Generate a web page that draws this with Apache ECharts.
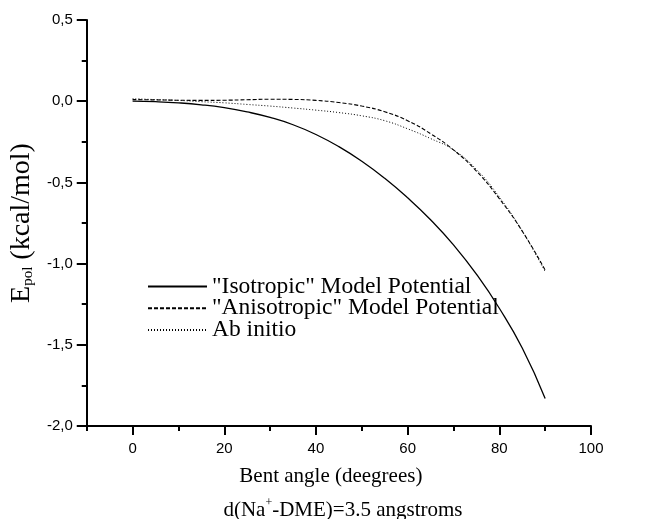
<!DOCTYPE html>
<html>
<head>
<meta charset="utf-8">
<script src="https://cdn.jsdelivr.net/npm/echarts@6/dist/echarts.min.js"></script>
<style>
  html, body { margin: 0; padding: 0; background: #fff; }
  #main { width: 652px; height: 519px; }
</style>
</head>
<body>
<div id="main"></div>
<script>
  // bent angle (degrees)
  var angles = [0, 5, 10, 15, 20, 25, 30, 35, 40, 45, 50, 55, 60, 65, 70, 75, 80, 85, 90];

  // E_pol (kcal/mol)
  var isotropic = [0, -0.003, -0.01, -0.022, -0.04, -0.066, -0.10, -0.145, -0.205, -0.28, -0.37, -0.475, -0.595, -0.73, -0.885, -1.065, -1.275, -1.52, -1.83];
  var anisotropic = [0.01, 0.008, 0.006, 0.005, 0.006, 0.009, 0.012, 0.011, 0.005, -0.008, -0.03, -0.065, -0.12, -0.20, -0.30, -0.43, -0.60, -0.80, -1.04];
  var abInitio = [0.015, 0.01, 0.005, -0.003, -0.01, -0.02, -0.03, -0.042, -0.055, -0.07, -0.09, -0.12, -0.17, -0.23, -0.30, -0.42, -0.59, -0.80, -1.05];

  var names = ['"Isotropic" Model Potential', '"Anisotropic" Model Potential', 'Ab initio'];
  var majorX = [0, 20, 40, 60, 80, 100];

  function pairs(ys) {
    return angles.map(function (a, i) { return [a, ys[i]]; });
  }

  var myChart = echarts.init(document.getElementById('main'));

  var tickFont = { fontFamily: 'Liberation Sans', fontSize: 15, color: '#000' };

  var option = {
    animation: false,
    backgroundColor: '#fff',
    grid: { left: 86, right: 61, top: 20, bottom: 93 },
    legend: {
      orient: 'vertical',
      left: 147,
      top: 274.5,
      padding: 0,
      itemWidth: 59,
      itemHeight: 10,
      itemGap: -2.2,
      itemStyle: { opacity: 0 },
      textStyle: { fontFamily: 'Liberation Serif', fontSize: 23.5, color: '#000' },
      data: names
    },
    title: {
      text: '{b|d(Na}{sup|+}{b|-DME)=3.5 angstroms}',
      left: 338,
      textAlign: 'center',
      top: 492,
      textStyle: {
        rich: {
          b: { fontFamily: 'Liberation Serif', fontSize: 21, fontWeight: 'normal', lineHeight: 24, color: '#000', verticalAlign: 'bottom' },
          sup: { fontFamily: 'Liberation Serif', fontSize: 12, fontWeight: 'normal', lineHeight: 12, color: '#000', verticalAlign: 'top' }
        }
      }
    },
    xAxis: [{
      type: 'value',
      min: -10,
      max: 100,
      interval: 10,
      name: 'Bent angle (deegrees)',
      nameLocation: 'middle',
      nameGap: 40,
      nameTextStyle: { fontFamily: 'Liberation Serif', fontSize: 21, color: '#000', padding: [0, 16, 0, 0] },
      axisLine: { onZero: false, lineStyle: { color: '#000', width: 2 } },
      axisTick: { length: 5, lineStyle: { color: '#000', width: 2 } },
      axisLabel: {
        margin: 15,
        formatter: function (v) { return v % 20 === 0 && v >= 0 ? String(v) : ''; },
        fontFamily: tickFont.fontFamily, fontSize: tickFont.fontSize, color: tickFont.color
      },
      splitLine: { show: false }
    }, {
      type: 'value',
      min: -10,
      max: 100,
      position: 'bottom',
      axisLine: { show: false, onZero: false },
      axisTick: { length: 9, customValues: majorX, lineStyle: { color: '#000', width: 2 } },
      axisLabel: { show: false },
      splitLine: { show: false }
    }],
    yAxis: {
      type: 'value',
      min: -2,
      max: 0.5,
      interval: 0.5,
      name: '{e|E}{sub|pol}{e| (kcal/mol)}',
      nameLocation: 'middle',
      nameGap: 39,
      nameTextStyle: {
        rich: {
          e: { fontFamily: 'Liberation Serif', fontSize: 28, color: '#000' },
          sub: { fontFamily: 'Liberation Serif', fontSize: 15, color: '#000', verticalAlign: 'bottom', padding: [10, 0, 0, 0] }
        }
      },
      axisLine: { onZero: false, lineStyle: { color: '#000', width: 2 } },
      axisTick: { length: 10, lineStyle: { color: '#000', width: 2 } },
      minorTick: { show: true, splitNumber: 2, length: 5, lineStyle: { color: '#000', width: 2 } },
      axisLabel: {
        margin: 14,
        formatter: function (v) { return v.toFixed(1).replace('.', ','); },
        fontFamily: tickFont.fontFamily, fontSize: tickFont.fontSize, color: tickFont.color
      },
      splitLine: { show: false }
    },
    series: [{
      name: names[0],
      type: 'line',
      data: pairs(isotropic),
      smooth: true,
      symbol: 'none',
      lineStyle: { color: '#000', width: 1.3, type: 'solid' },
      itemStyle: { color: '#000' }
    }, {
      name: names[1],
      type: 'line',
      data: pairs(anisotropic),
      smooth: true,
      symbol: 'none',
      lineStyle: { color: '#000', width: 1.1, type: [4, 2] },
      itemStyle: { color: '#000' }
    }, {
      name: names[2],
      type: 'line',
      data: pairs(abInitio),
      smooth: true,
      symbol: 'none',
      lineStyle: { color: '#000', width: 1, type: [1, 2] },
      itemStyle: { color: '#000' }
    }]
  };

  myChart.setOption(option);
</script>
</body>
</html>
